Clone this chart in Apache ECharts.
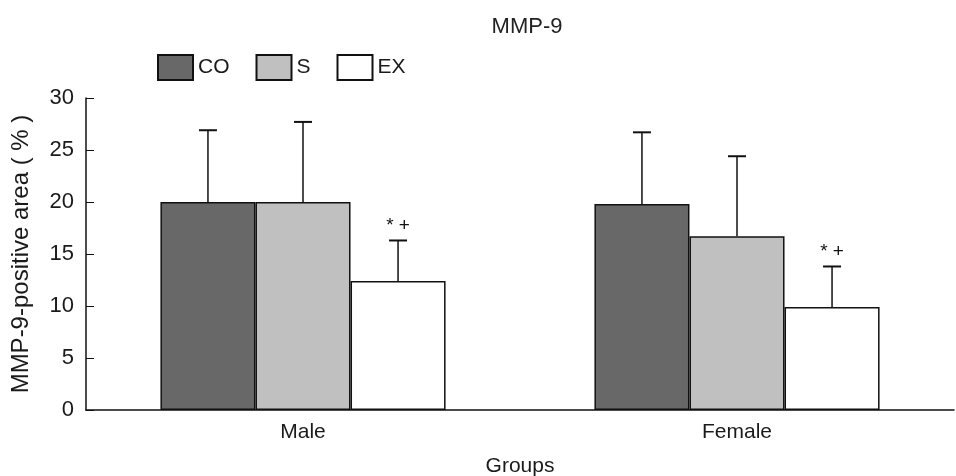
<!DOCTYPE html>
<html>
<head>
<meta charset="utf-8">
<script src="https://cdn.jsdelivr.net/npm/echarts@6/dist/echarts.min.js"></script>
<style>html,body{margin:0;padding:0;background:#fff}#c{width:956px;height:476px}</style>
</head>
<body>
<div id="c"></div>
<script>
const categories = ['Male', 'Female'];
const seriesNames = ['CO', 'S', 'EX'];
const meanCO = [20.0, 19.8];
const meanS = [20.0, 16.7];
const meanEX = [12.4, 9.9];
const sdCO = [6.9, 6.9];
const sdS = [7.7, 7.7];
const sdEX = [3.9, 3.9];
const markCO = ['', ''];
const markS = ['', ''];
const markEX = ['*+', '*+'];
const yTicks = [0, 5, 10, 15, 20, 25, 30];

const means = [meanCO, meanS, meanEX];
const sds = [sdCO, sdS, sdEX];
const marks = [markCO, markS, markEX];
const fills = ['#686868', '#c0c0c0', '#ffffff'];
const FONT = '"Liberation Sans", Arial, sans-serif';
const GAP = 0.343;

const chart = echarts.init(document.getElementById('c'));

const barSeries = seriesNames.map((n, i) => ({
  name: n,
  type: 'bar',
  data: means[i],
  barGap: '0%',
  barCategoryGap: (GAP * 100) + '%',
  itemStyle: { color: fills[i], borderColor: '#111', borderWidth: 1.5 },
  emphasis: { disabled: true },
  z: 2
}));

const errSeries = seriesNames.map((n, i) => ({
  name: n + '_err',
  type: 'custom',
  z: 3,
  data: categories.map((c, k) => [k, means[i][k], sds[i][k]]),
  renderItem: function (params, api) {
    const k = api.value(0);
    const m = api.value(1);
    const sd = api.value(2);
    const mark = marks[i][k];
    const catW = api.size([1, 0])[0];
    const barW = catW * (1 - GAP) / 3;
    const base = api.coord([k, m]);
    const top = api.coord([k, m + sd]);
    const x = base[0] + (i - 1) * barW;
    const cap = 9;
    const children = [
      { type: 'line', shape: { x1: x, y1: base[1], x2: x, y2: top[1] }, style: { stroke: '#111', lineWidth: 1.5 } },
      { type: 'line', shape: { x1: x - cap, y1: top[1], x2: x + cap, y2: top[1] }, style: { stroke: '#111', lineWidth: 2 } }
    ];
    if (mark) {
      children.push({ type: 'text', style: { text: mark.split('').join(' '), x: x, y: top[1] - 15, align: 'center', verticalAlign: 'middle', font: '19px ' + FONT, fill: '#111' } });
    }
    return { type: 'group', children: children };
  }
}));

chart.setOption({
  animation: false,
  backgroundColor: '#fff',
  title: {
    text: 'MMP-9',
    left: 522, top: 11,
    textAlign: 'center',
    textStyle: { fontFamily: FONT, fontSize: 22, fontWeight: 'normal', color: '#222' }
  },
  legend: {
    data: seriesNames,
    left: 157, top: 54,
    padding: 0,
    itemWidth: 35, itemHeight: 25, itemGap: 26,
    icon: 'rect',
    textStyle: { fontFamily: FONT, fontSize: 21, color: '#1a1a1a' }
  },
  grid: { left: 86, right: 2, top: 98, bottom: 66, containLabel: false, outerBoundsMode: 'none' },
  xAxis: {
    type: 'category',
    data: categories,
    name: 'Groups',
    nameLocation: 'middle',
    nameGap: 46,
    nameTextStyle: { fontFamily: FONT, fontSize: 21, color: '#1a1a1a' },
    axisLine: { lineStyle: { color: '#111', width: 1.5 } },
    axisTick: { inside: true, length: 5, lineStyle: { color: '#111' } },
    axisLabel: { fontFamily: FONT, fontSize: 21, color: '#1a1a1a', margin: 12 }
  },
  yAxis: {
    type: 'value',
    min: yTicks[0], max: yTicks[yTicks.length - 1], interval: yTicks[1] - yTicks[0],
    name: 'MMP-9-positive area ( % )',
    nameLocation: 'middle',
    nameRotate: 90,
    nameGap: 53,
    nameTextStyle: { fontFamily: FONT, fontSize: 24, color: '#1a1a1a' },
    axisLine: { show: true, lineStyle: { color: '#111', width: 1.5 } },
    axisTick: { show: true, inside: true, length: 8, lineStyle: { color: '#111' } },
    axisLabel: { fontFamily: FONT, fontSize: 22, color: '#1a1a1a', margin: 12 },
    splitLine: { show: false }
  },
  series: barSeries.concat(errSeries)
});
</script>
</body>
</html>
